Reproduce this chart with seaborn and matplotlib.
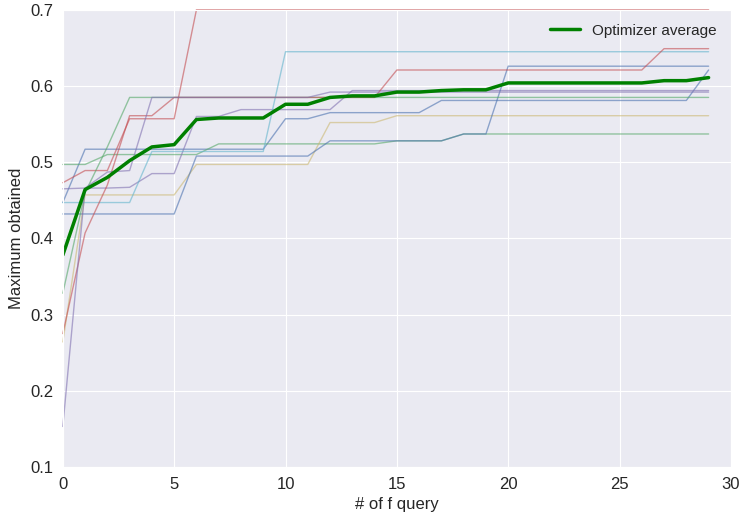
import numpy as np
import pandas as pd
import matplotlib
matplotlib.use('Agg')
import matplotlib.pyplot as plt
import seaborn as sns

queries = list(range(30))

# best value found so far, one list per optimizer run
blue_a = [0.447, 0.517, 0.517, 0.517, 0.517, 0.517, 0.517, 0.517, 0.517, 0.517,
          0.557, 0.557, 0.565, 0.565, 0.565, 0.565, 0.565, 0.581, 0.581, 0.581,
          0.581, 0.581, 0.581, 0.581, 0.581, 0.581, 0.581, 0.581, 0.581, 0.621]
green_a = [0.497, 0.497, 0.510, 0.510, 0.510, 0.510, 0.510, 0.524, 0.524, 0.524,
           0.524, 0.524, 0.524, 0.524, 0.524, 0.528, 0.528, 0.528, 0.537, 0.537,
           0.537, 0.537, 0.537, 0.537, 0.537, 0.537, 0.537, 0.537, 0.537, 0.537]
red_a = [0.473, 0.489, 0.489, 0.557, 0.557, 0.557, 0.700, 0.700, 0.700, 0.700,
         0.700, 0.700, 0.700, 0.700, 0.700, 0.700, 0.700, 0.700, 0.700, 0.700,
         0.700, 0.700, 0.700, 0.700, 0.700, 0.700, 0.700, 0.700, 0.700, 0.700]
purple_a = [0.465, 0.466, 0.466, 0.467, 0.485, 0.485, 0.560, 0.560, 0.569, 0.569,
            0.569, 0.569, 0.569, 0.594, 0.594, 0.594, 0.594, 0.594, 0.594, 0.594,
            0.594, 0.594, 0.594, 0.594, 0.594, 0.594, 0.594, 0.594, 0.594, 0.594]
tan = [0.264, 0.457, 0.457, 0.457, 0.457, 0.457, 0.497, 0.497, 0.497, 0.497,
       0.497, 0.497, 0.552, 0.552, 0.552, 0.561, 0.561, 0.561, 0.561, 0.561,
       0.561, 0.561, 0.561, 0.561, 0.561, 0.561, 0.561, 0.561, 0.561, 0.561]
cyan = [0.447, 0.447, 0.447, 0.447, 0.514, 0.514, 0.514, 0.514, 0.514, 0.514,
        0.645, 0.645, 0.645, 0.645, 0.645, 0.645, 0.645, 0.645, 0.645, 0.645,
        0.645, 0.645, 0.645, 0.645, 0.645, 0.645, 0.645, 0.645, 0.645, 0.645]
blue_b = [0.432, 0.432, 0.432, 0.432, 0.432, 0.432, 0.508, 0.508, 0.508, 0.508,
          0.508, 0.508, 0.528, 0.528, 0.528, 0.528, 0.528, 0.528, 0.537, 0.537,
          0.626, 0.626, 0.626, 0.626, 0.626, 0.626, 0.626, 0.626, 0.626, 0.626]
green_b = [0.328, 0.460, 0.520, 0.585, 0.585, 0.585, 0.585, 0.585, 0.585, 0.585,
           0.585, 0.585, 0.585, 0.585, 0.585, 0.585, 0.585, 0.585, 0.585, 0.585,
           0.585, 0.585, 0.585, 0.585, 0.585, 0.585, 0.585, 0.585, 0.585, 0.585]
red_b = [0.275, 0.407, 0.470, 0.561, 0.561, 0.585, 0.585, 0.585, 0.585, 0.585,
         0.585, 0.585, 0.585, 0.585, 0.585, 0.621, 0.621, 0.621, 0.621, 0.621,
         0.621, 0.621, 0.621, 0.621, 0.621, 0.621, 0.621, 0.649, 0.649, 0.649]
purple_b = [0.153, 0.466, 0.487, 0.489, 0.585, 0.585, 0.585, 0.585, 0.585, 0.585,
            0.585, 0.585, 0.592, 0.592, 0.592, 0.592, 0.592, 0.592, 0.592, 0.592,
            0.592, 0.592, 0.592, 0.592, 0.592, 0.592, 0.592, 0.592, 0.592, 0.592]

average = [0.378, 0.464, 0.480, 0.502, 0.520, 0.523, 0.556, 0.558, 0.558, 0.558,
           0.576, 0.576, 0.585, 0.587, 0.587, 0.592, 0.592, 0.594, 0.595, 0.595,
           0.604, 0.604, 0.604, 0.604, 0.604, 0.604, 0.604, 0.607, 0.607, 0.611]

runs = [blue_a, green_a, red_a, purple_a, tan, cyan, blue_b, green_b, red_b, purple_b]
old_deep = ["#4C72B0", "#55A868", "#C44E52", "#8172B2", "#CCB974", "#64B5CD"]

sns.set_style('darkgrid')
plt.rcParams['font.family'] = ['Liberation Sans', 'DejaVu Sans']

fig, ax = plt.subplots(figsize=(7.39, 5.17), dpi=100)
fig.subplots_adjust(left=0.085, right=0.989, top=0.981, bottom=0.097)

for i, run in enumerate(runs):
    sns.lineplot(x=queries, y=run, ax=ax, color=old_deep[i % 6], lw=1, alpha=0.6,
                 clip_on=False)

sns.lineplot(x=queries, y=average, ax=ax, color='green', lw=2.5, label='Optimizer average')

ax.set_xlim(0, 30)
ax.set_ylim(0.1, 0.7)
ax.set_xlabel('# of f query', fontsize=12)
ax.set_ylabel('Maximum obtained', fontsize=12)
ax.tick_params(labelsize=12)
ax.legend(loc='upper right', frameon=False, prop={'family': 'Liberation Sans', 'size': 11})

fig.savefig('out.png', dpi=100)
